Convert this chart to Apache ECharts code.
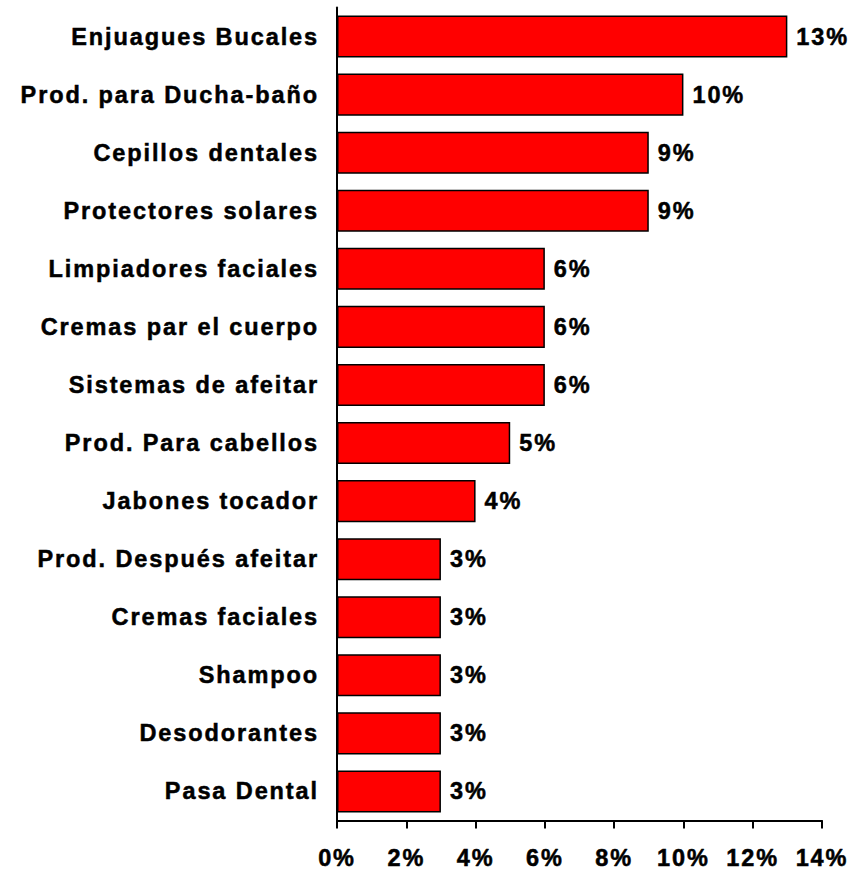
<!DOCTYPE html>
<html>
<head>
<meta charset="utf-8">
<script src="https://cdn.jsdelivr.net/npm/echarts@6/dist/echarts.min.js"></script>
<style>
  html, body { margin: 0; padding: 0; background: #ffffff; }
  #chart { width: 851px; height: 872px; }
  /* widen the bold labels a little, like the original office-style chart */
  #chart text { letter-spacing: 1.9px; }
</style>
</head>
<body>
<div id="chart"></div>
<script>
// Product categories, top to bottom
const categories = [
  'Enjuagues Bucales',
  'Prod. para Ducha-baño',
  'Cepillos dentales',
  'Protectores solares',
  'Limpiadores faciales',
  'Cremas par el cuerpo',
  'Sistemas de afeitar',
  'Prod. Para cabellos',
  'Jabones tocador',
  'Prod. Después afeitar',
  'Cremas faciales',
  'Shampoo',
  'Desodorantes',
  'Pasa Dental'
];

// Share per category, in percent
const shares = [13, 10, 9, 9, 6, 6, 6, 5, 4, 3, 3, 3, 3, 3];

// Value-axis ticks, in percent
const xTicks = [0, 2, 4, 6, 8, 10, 12, 14];

// heavy bold labels: bold face plus a thin outline in the same colour
const labelFont = {
  fontFamily: '"Liberation Sans", Arial, sans-serif',
  fontWeight: 'bold',
  fontSize: 23.5,
  color: '#000000',
  textBorderColor: '#000000',
  textBorderWidth: 0.5
};

const chart = echarts.init(document.getElementById('chart'), null, { renderer: 'svg' });

chart.setOption({
  animation: false,
  backgroundColor: '#ffffff',
  grid: {
    left: 337,
    right: 29,
    top: 7.5,
    bottom: 51.5,
    containLabel: false,
    outerBoundsMode: 'none'
  },
  xAxis: {
    type: 'value',
    min: xTicks[0],
    max: xTicks[xTicks.length - 1],
    interval: xTicks[1] - xTicks[0],
    splitLine: { show: false },
    axisLine: { show: true, lineStyle: { color: '#000000', width: 2 } },
    axisTick: { show: true, inside: false, length: 8, lineStyle: { color: '#000000', width: 2 } },
    axisLabel: Object.assign({ margin: 25, formatter: '{value}%' }, labelFont)
  },
  yAxis: {
    type: 'category',
    inverse: true,
    data: categories,
    axisLine: { show: true, lineStyle: { color: '#000000', width: 2 } },
    axisTick: { show: false },
    splitLine: { show: false },
    axisLabel: Object.assign({ margin: 18 }, labelFont)
  },
  series: [{
    type: 'bar',
    data: shares,
    barCategoryGap: '27.6%',
    itemStyle: {
      color: '#ff0000',
      borderColor: '#000000',
      borderWidth: 1.5
    },
    label: Object.assign({
      show: true,
      position: 'right',
      distance: 9,
      formatter: '{c}%'
    }, labelFont)
  }]
});
</script>
</body>
</html>
